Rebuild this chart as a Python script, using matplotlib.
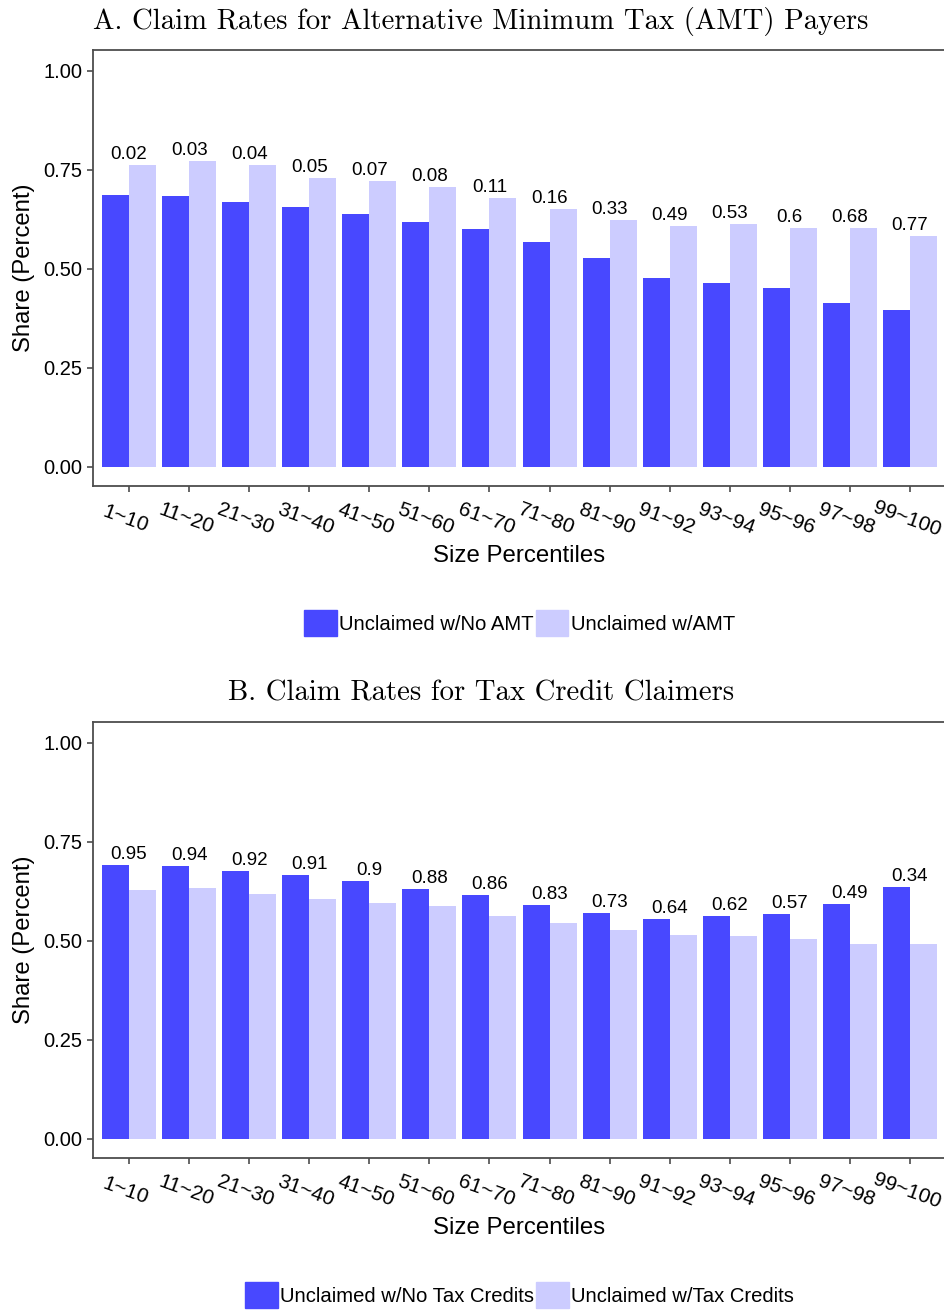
import matplotlib.pyplot as plt
import numpy as np

plt.rcParams['font.family'] = ['Liberation Sans', 'DejaVu Sans']

groups = ['1~10', '11~20', '21~30', '31~40', '41~50', '51~60', '61~70',
          '71~80', '81~90', '91~92', '93~94', '95~96', '97~98', '99~100']

# panel A: AMT payers
a_no = [0.687, 0.684, 0.669, 0.657, 0.639, 0.619, 0.601,
        0.568, 0.528, 0.477, 0.465, 0.452, 0.414, 0.396]
a_yes = [0.763, 0.773, 0.763, 0.730, 0.722, 0.707, 0.679,
         0.652, 0.624, 0.609, 0.614, 0.604, 0.604, 0.583]
a_lab = ['0.02', '0.03', '0.04', '0.05', '0.07', '0.08', '0.11',
         '0.16', '0.33', '0.49', '0.53', '0.6', '0.68', '0.77']

# panel B: tax credit claimers
b_no = [0.692, 0.689, 0.677, 0.667, 0.652, 0.631, 0.616,
        0.591, 0.571, 0.556, 0.563, 0.568, 0.593, 0.636]
b_yes = [0.629, 0.634, 0.619, 0.606, 0.596, 0.588, 0.563,
         0.545, 0.528, 0.515, 0.513, 0.505, 0.492, 0.492]
b_lab = ['0.95', '0.94', '0.92', '0.91', '0.9', '0.88', '0.86',
         '0.83', '0.73', '0.64', '0.62', '0.57', '0.49', '0.34']

dark = '#4848FF'
light = '#CCCCFF'
spine_col = '#4d4d4d'

fig = plt.figure(figsize=(9.44, 13.1), dpi=100)
W, H = 944.0, 1310.0


def panel(top_px, no, yes, labs, title, leg_no, leg_yes):
    ax = fig.add_axes([93 / W, 1 - (top_px + 436) / H, 853 / W, 436 / H])
    x = np.arange(1, len(groups) + 1)
    w = 0.45
    ax.bar(x - w / 2, no, width=w, color=dark, linewidth=0)
    ax.bar(x + w / 2, yes, width=w, color=light, linewidth=0)
    for xi, a, b, t in zip(x, no, yes, labs):
        ax.annotate(t, (xi, max(a, b)), xytext=(0, 1.5), textcoords='offset points',
                    ha='center', va='bottom', fontsize=13.5, color='black')
    ax.set_xlim(0.4, len(groups) + 0.6)
    ax.set_ylim(-0.048, 1.053)
    ax.set_yticks([0, 0.25, 0.5, 0.75, 1.0])
    ax.set_yticklabels(['0.00', '0.25', '0.50', '0.75', '1.00'], fontsize=14.5)
    ax.set_xticks(x)
    ax.set_xticklabels(groups, fontsize=15, rotation=-20,
                       ha='center', va='top', rotation_mode='anchor')
    ax.tick_params(axis='both', length=4, width=1.2, color=spine_col, colors='black')
    ax.tick_params(axis='x', pad=13)
    for s in ax.spines.values():
        s.set_color(spine_col)
        s.set_linewidth(1.3)
    ax.set_xlabel('Size Percentiles', fontsize=17.3, labelpad=4)
    ax.set_ylabel('Share (Percent)', fontsize=17.2, labelpad=6)
    fig.text(481 / W, 1 - (top_px - 29) / H, title, family='cmr10', fontsize=20.7,
             ha='center', va='center')
    h1 = plt.Rectangle((0, 0), 1, 1, color=dark)
    h2 = plt.Rectangle((0, 0), 1, 1, color=light)
    ax.legend([h1, h2], [leg_no, leg_yes], loc='center',
              bbox_to_anchor=(0.5, (-(137)) / 436.0), ncol=2, frameon=False,
              fontsize=14.6, handlelength=1.6, handleheight=1.6,
              handletextpad=0.12, columnspacing=0.1, borderaxespad=0)
    return ax


panel(50, a_no, a_yes, a_lab,
      'A. Claim Rates for Alternative Minimum Tax (AMT) Payers',
      'Unclaimed w/No AMT', 'Unclaimed w/AMT')
panel(722, b_no, b_yes, b_lab,
      'B. Claim Rates for Tax Credit Claimers',
      'Unclaimed w/No Tax Credits', 'Unclaimed w/Tax Credits')

fig.savefig('out.png', dpi=100)
